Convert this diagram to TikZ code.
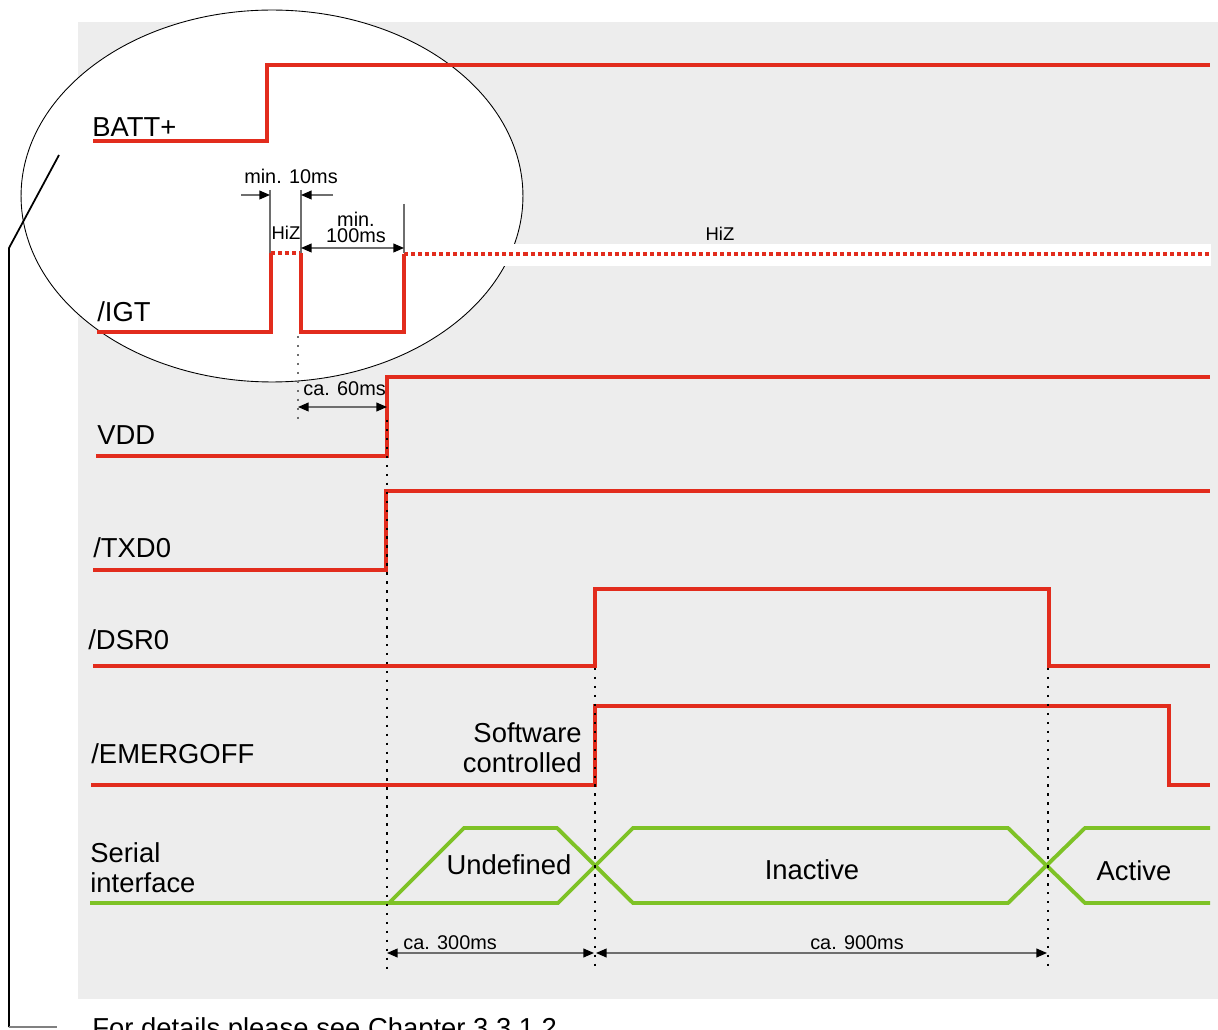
\documentclass[tikz,border=0pt]{standalone}
\usepackage{fontspec}
\setmainfont{Liberation Sans}
\usepackage{xcolor}
\usetikzlibrary{arrows.meta}

\definecolor{sigred}{RGB}{226,44,29}
\definecolor{siggreen}{RGB}{126,194,38}
\definecolor{panelgray}{RGB}{237,237,237}
\definecolor{dimgray}{RGB}{110,110,110}

\begin{document}
\begin{tikzpicture}[x=0.02cm, y=-0.02cm,
  every node/.style={font=\fontsize{15.6}{17}\selectfont, inner sep=0pt},
  small/.style={font=\fontsize{11.3}{9.6}\selectfont},
  tiny/.style={font=\fontsize{10.5}{11}\selectfont},
  sig/.style={sigred, line width=2.2pt},
  bus/.style={siggreen, line width=2.2pt},
  hiz/.style={sigred, line width=2.2pt, dash pattern=on 2.3pt off 1.7pt},
  marker/.style={black, line width=1.4pt, dash pattern=on 1.4pt off 3.7pt},
  dim/.style={dimgray, line width=0.7pt},
  dimarrow/.style={dim, {Triangle[length=6pt,width=5pt,color=black]}-{Triangle[length=6pt,width=5pt,color=black]}},
  onearrow/.style={dim, -{Triangle[length=6pt,width=5pt,color=black]}}]
  \useasboundingbox (0,0) rectangle (1218,1030);
  \clip (0,0) rectangle (1218,1030);

  % ---------- BACKGROUND ----------
  \fill[panelgray] (78,22) rectangle (1218,999);
  \filldraw[fill=white, draw=black, line width=0.5pt] (272,196) ellipse [x radius=5.02cm, y radius=3.72cm];
  \fill[white] (490,244) rectangle (1211,266);

  % ---------- CALLOUT ----------
  \coordinate (C1) at (59,155);
  \coordinate (C2) at (9,248);
  \coordinate (C3) at (9,1027);
  \coordinate (C4) at (57,1027);
  \draw[black, line width=1pt] (C1) -- (C2) -- (C3);
  \draw[gray, line width=1pt] (C3) -- (C4);
  \node[anchor=base west] (footnote) at (92,1037) {For details please see Chapter 3.3.1.2};

  % ---------- SIGNALS ----------
  \draw[sig] (93,141) -- (267,141) -- (267,65) -- (1210,65);
  \draw[sig] (97,332) -- (271,332) -- (271,253);
  \draw[hiz] (271,253) -- (301,253);
  \draw[sig] (301,253) -- (301,332) -- (404,332) -- (404,254);
  \draw[hiz] (404,254) -- (1210,254);
  \draw[sig] (96,456) -- (387,456) -- (387,377) -- (1210,377);
  \draw[sig] (93,570) -- (386,570) -- (386,491) -- (1210,491);
  \draw[sig] (93,666) -- (595,666) -- (595,589) -- (1049,589) -- (1049,666) -- (1210,666);
  \draw[sig] (91,785) -- (595,785) -- (595,706) -- (1169,706) -- (1169,785) -- (1210,785);
  \draw[bus] (90,903) -- (389,903) -- (464,828) -- (557,828) -- (633,903) -- (1008,903) -- (1085,828) -- (1210,828);
  \draw[bus] (389,903) -- (558,903) -- (633,828) -- (1008,828) -- (1085,903) -- (1210,903);

  % ---------- SIGNAL NAMES ----------
  \node[anchor=base west] (batt) at (92,137) {BATT+};
  \node[anchor=base west] (igt) at (97,322) {/IGT};
  \node[anchor=base west] (vdd) at (97,445) {VDD};
  \node[anchor=base west] (txd) at (93,558) {/TXD0};
  \node[anchor=base west] (dsr) at (88,649) {/DSR0};
  \node[anchor=base west] (emergoff) at (91,763) {/EMERGOFF};
  \node[anchor=base west, align=left] (serial) at (90,892) {Serial\\interface};
  \node[anchor=base east, align=right] (swctrl) at (582,772) {Software\\controlled};
  \node[anchor=base] (undef) at (509,874) {Undefined};
  \node[anchor=base] (inactive) at (812,879) {Inactive};
  \node[anchor=base] (active) at (1134,880) {Active};

  % ---------- TIME MARKERS ----------
  \coordinate (T1a) at (387,420);
  \coordinate (T1b) at (387,975);
  \coordinate (T2a) at (595,668);
  \coordinate (T2b) at (595,970);
  \coordinate (T3a) at (1048,668);
  \coordinate (T3b) at (1048,970);
  \draw[marker] (T1a) -- (T1b);
  \draw[marker] (T2a) -- (T2b);
  \draw[marker] (T3a) -- (T3b);
  \draw[marker, dimgray] (298,336) -- (298,425);

  % ---------- DIMENSIONS ----------
  \draw[dim] (270,190) -- (270,253);
  \draw[dim] (301,190) -- (301,253);
  \draw[dim] (404,204) -- (404,253);
  \coordinate (A1) at (241,195);
  \coordinate (A2) at (270,195);
  \coordinate (A3) at (333,195);
  \coordinate (A4) at (301,195);
  \draw[onearrow] (A1) -- (A2);
  \draw[onearrow] (A3) -- (A4);
  \node[small, anchor=base] (tenms) at (291,184) {min. 10ms};
  \node[tiny, anchor=base] (hizA) at (286,240) {HiZ};
  \coordinate (B1) at (301,248);
  \coordinate (B2) at (404,248);
  \draw[dimarrow] (B1) -- (B2);
  \node[small, anchor=base, align=center] (hundred) at (356,243) {min.\\100ms};
  \node[tiny, anchor=base] (hizB) at (720,241) {HiZ};
  \coordinate (D1) at (298,407);
  \coordinate (D2) at (387,407);
  \draw[dimarrow] (D1) -- (D2);
  \node[small, anchor=base west] (sixty) at (303,396) {ca. 60ms};
  \coordinate (E1) at (387,953);
  \coordinate (E2) at (594,953);
  \coordinate (E3) at (596,953);
  \coordinate (E4) at (1047,953);
  \draw[dimarrow] (E1) -- (E2);
  \draw[dimarrow] (E3) -- (E4);
  \node[small, anchor=base west] (threehundred) at (403,949) {ca. 300ms};
  \node[small, anchor=base] (ninehundred) at (857,949) {ca. 900ms};
\end{tikzpicture}
\end{document}
